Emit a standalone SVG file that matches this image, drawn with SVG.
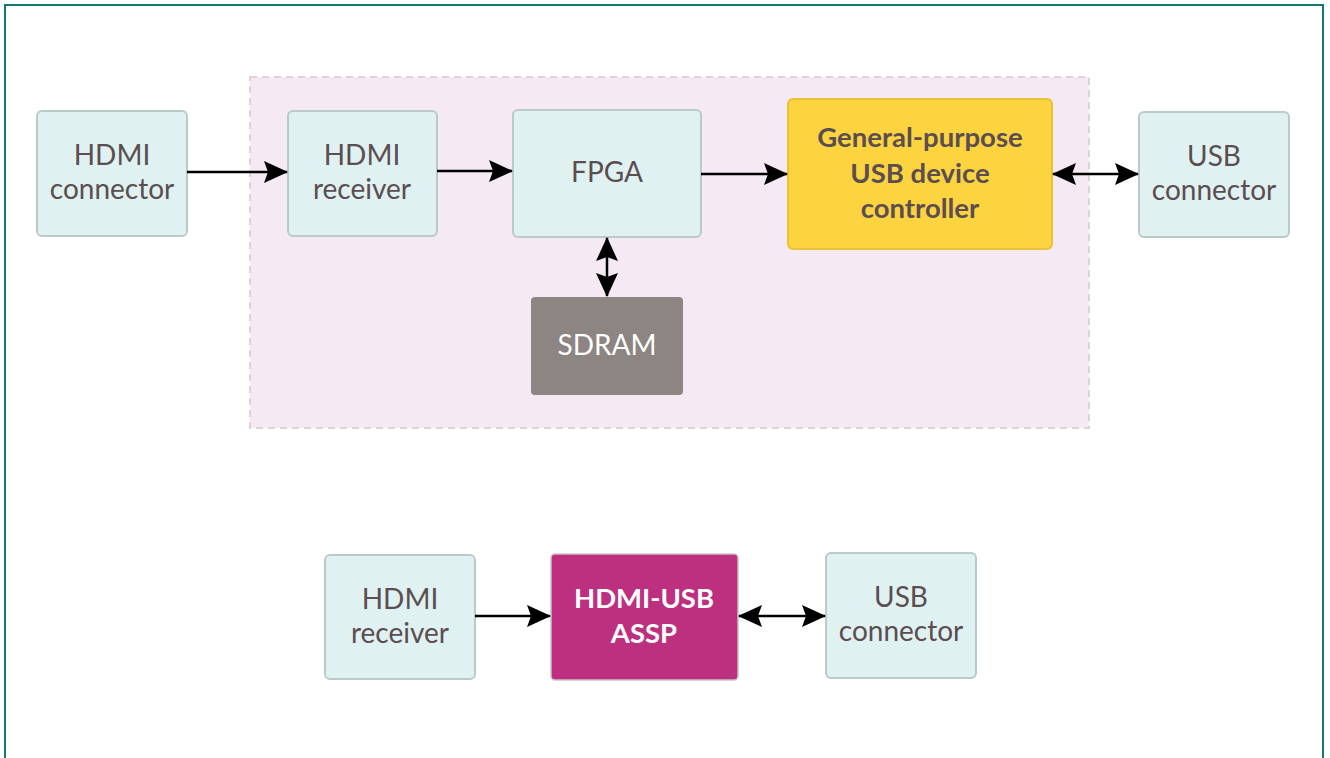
<svg xmlns="http://www.w3.org/2000/svg" width="1330" height="758" viewBox="0 0 1330 758">
<style>
.n{fill:#dff2f1;stroke:#b9cac8;stroke-width:2}
.t{font-family:Lato,"Open Sans",sans-serif;font-size:28px;fill:#5c4d50;text-anchor:middle}
.b{font-weight:bold;font-size:27.5px}
.c{stroke:#000;stroke-width:2.5;fill:none}
</style>
<defs>
<marker id="ah" viewBox="0 0 24 24" refX="23" refY="12" markerWidth="24" markerHeight="24" markerUnits="userSpaceOnUse" orient="auto-start-reverse"><path d="M0,1 L24,12 L0,23 L4,12 z" fill="#000"/></marker>
</defs>
<rect x="0" y="0" width="1330" height="758" fill="#fff"/>
<path d="M5,765 V5 H1323 V765" fill="none" stroke="#137a6e" stroke-width="2"/>
<rect id="fpga-board" x="250" y="77" width="839" height="351" fill="#f5e9f3" stroke="#dcd3d8" stroke-width="2" stroke-dasharray="7,5"/>
<g id="hdmi-conn"><rect class="n" x="37" y="111" width="150" height="125" rx="5"/><text class="t" x="112" y="165">HDMI</text><text class="t" x="112" y="199">connector</text></g>
<g id="hdmi-rx"><rect class="n" x="288" y="111" width="149" height="125" rx="5"/><text class="t" x="362" y="165">HDMI</text><text class="t" x="362" y="199">receiver</text></g>
<g id="fpga"><rect class="n" x="513" y="110" width="188" height="127" rx="5"/><text class="t" x="607" y="182">FPGA</text></g>
<g id="usb-ctrl"><rect x="788" y="99" width="264" height="150" rx="5" fill="#fcd440" stroke="#e9c237" stroke-width="2"/><text class="t b" x="920" y="147">General-purpose</text><text class="t b" x="920" y="183">USB device</text><text class="t b" x="920" y="218">controller</text></g>
<g id="usb-conn"><rect class="n" x="1139" y="112" width="150" height="125" rx="5"/><text class="t" x="1214" y="166">USB</text><text class="t" x="1214" y="200">connector</text></g>
<g id="sdram"><rect x="531" y="297" width="152" height="98" rx="4" fill="#8c8582"/><text class="t" x="607" y="355" style="fill:#fff">SDRAM</text></g>
<g id="hdmi-rx2"><rect class="n" x="325" y="555" width="150" height="124" rx="5"/><text class="t" x="400" y="609">HDMI</text><text class="t" x="400" y="643">receiver</text></g>
<g id="assp"><rect x="551" y="554" width="187" height="126" rx="4" fill="#bd2f7f" stroke="#c9c3c6" stroke-width="1.5"/><text class="t b" x="644" y="608" style="fill:#fff">HDMI-USB</text><text class="t b" x="644" y="643" style="fill:#fff">ASSP</text></g>
<g id="usb-conn2"><rect class="n" x="826" y="553" width="150" height="125" rx="5"/><text class="t" x="901" y="607">USB</text><text class="t" x="901" y="641">connector</text></g>
<g id="connectors">
<line class="c" x1="187" y1="172" x2="287" y2="172" marker-end="url(#ah)"/>
<line class="c" x1="437" y1="171" x2="512" y2="171" marker-end="url(#ah)"/>
<line class="c" x1="701" y1="174" x2="787" y2="174" marker-end="url(#ah)"/>
<line class="c" x1="1053" y1="174" x2="1138" y2="174" marker-start="url(#ah)" marker-end="url(#ah)"/>
<line class="c" x1="607" y1="238" x2="607" y2="296" marker-start="url(#ah)" marker-end="url(#ah)"/>
<line class="c" x1="475" y1="616" x2="550" y2="616" marker-end="url(#ah)"/>
<line class="c" x1="739" y1="616" x2="825" y2="616" marker-start="url(#ah)" marker-end="url(#ah)"/>
</g>
</svg>
